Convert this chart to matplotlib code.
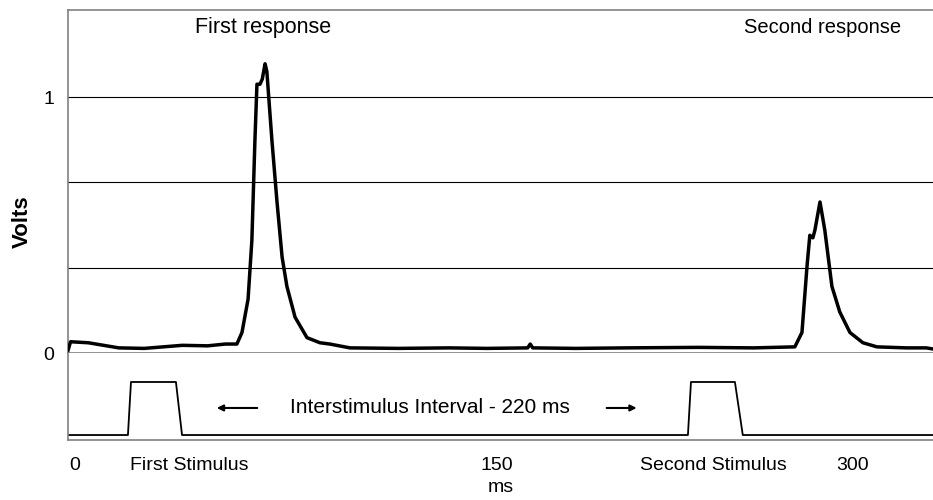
import numpy as np
import matplotlib.pyplot as plt

plt.rcParams['font.family'] = ['Liberation Sans', 'DejaVu Sans']

# response trace (ms, volts)
t_resp = [0, 1, 8, 20, 30, 45, 55, 62, 66.5, 68.5, 70.9, 72.4, 73.6, 74.4, 75.6, 76.5, 77.6,
          78.3, 80.3, 82.3, 84.3, 86.2, 89.4, 94.1, 99.2, 103.1, 111, 130, 150, 165, 181,
          182, 183, 200, 220, 248, 270, 286.2, 289, 291, 292.1, 293.3, 294.1, 296.1, 298,
          300.8, 303.9, 307.9, 313, 318.5, 330, 338, 341]
v_resp = [0.01, 0.044, 0.04, 0.02, 0.018, 0.03, 0.028, 0.035, 0.035, 0.08, 0.21, 0.44, 0.83,
          1.05, 1.05, 1.07, 1.13, 1.10, 0.83, 0.59, 0.375, 0.26, 0.14, 0.06, 0.04, 0.035,
          0.02, 0.018, 0.02, 0.018, 0.02, 0.035, 0.02, 0.018, 0.02, 0.022, 0.02, 0.024,
          0.08, 0.34, 0.46, 0.45, 0.48, 0.59, 0.48, 0.26, 0.16, 0.08, 0.04, 0.024, 0.02,
          0.02, 0.015]

# stimulus trace (ms, level)
t_stim = [0, 23.6, 24.8, 42.5, 44.9, 244.1, 245.3, 262.6, 265.7, 341]
v_stim = [0, 0, 1, 1, 0, 0, 1, 1, 0, 0]

grid_levels = [1 / 3, 2 / 3, 1]
tick_pos = [2.8, 47.6, 169, 254, 309]
tick_labels = ['0', 'First Stimulus', '150', 'Second Stimulus', '300']

fig = plt.figure(figsize=(9.33, 5), dpi=100)
ax = fig.add_axes([68 / 933, 147 / 500, 1 - 68 / 933, 343 / 500])
ax2 = fig.add_axes([68 / 933, 60 / 500, 1 - 68 / 933, 87 / 500])

for g in grid_levels:
    ax.axhline(g, color='black', lw=0.8, zorder=1)
ax.plot(t_resp, v_resp, color='black', lw=2.5, zorder=3)
ax.set_xlim(0, 340.6)
ax.set_ylim(0, 1.34)
ax.set_yticks([0, 1])
ax.set_yticklabels(['0', '1'], fontsize=14)
ax.tick_params(axis='y', length=0, pad=10)
ax.set_xticks([])
ax.set_ylabel('Volts', fontsize=16, fontweight='bold')
ax.yaxis.set_label_coords(-0.041, 0.382)
for s in ['left', 'top', 'bottom']:
    ax.spines[s].set_color('#808080')
    ax.spines[s].set_linewidth(1.2)
ax.spines['right'].set_visible(False)
ax.text(77, 1.27, 'First response', fontsize=15.5, ha='center', va='center')
ax.text(297, 1.27, 'Second response', fontsize=14.5, ha='center', va='center')

ax2.plot(t_stim, v_stim, color='black', lw=1.3)
ax2.set_xlim(0, 340.6)
ax2.set_ylim(-0.094, 1.547)
ax2.set_yticks([])
ax2.set_xticks(tick_pos)
ax2.set_xticklabels(tick_labels, fontsize=14)
ax2.tick_params(axis='x', length=0, pad=12)
ax2.set_xlabel('ms', fontsize=14, labelpad=4)
for s in ['left', 'bottom']:
    ax2.spines[s].set_color('#808080')
    ax2.spines[s].set_linewidth(1.2)
ax2.spines['top'].set_visible(False)
ax2.spines['right'].set_visible(False)

ax2.text(142.5, 0.51, 'Interstimulus Interval - 220 ms', fontsize=15, ha='center', va='center')
ax2.annotate('', xy=(57.5, 0.51), xytext=(75.6, 0.51),
             arrowprops=dict(arrowstyle='-|>', color='black', lw=1.5, mutation_scale=9))
ax2.annotate('', xy=(225, 0.51), xytext=(211, 0.51),
             arrowprops=dict(arrowstyle='-|>', color='black', lw=1.5, mutation_scale=9))

fig.savefig('out.png', dpi=100)
